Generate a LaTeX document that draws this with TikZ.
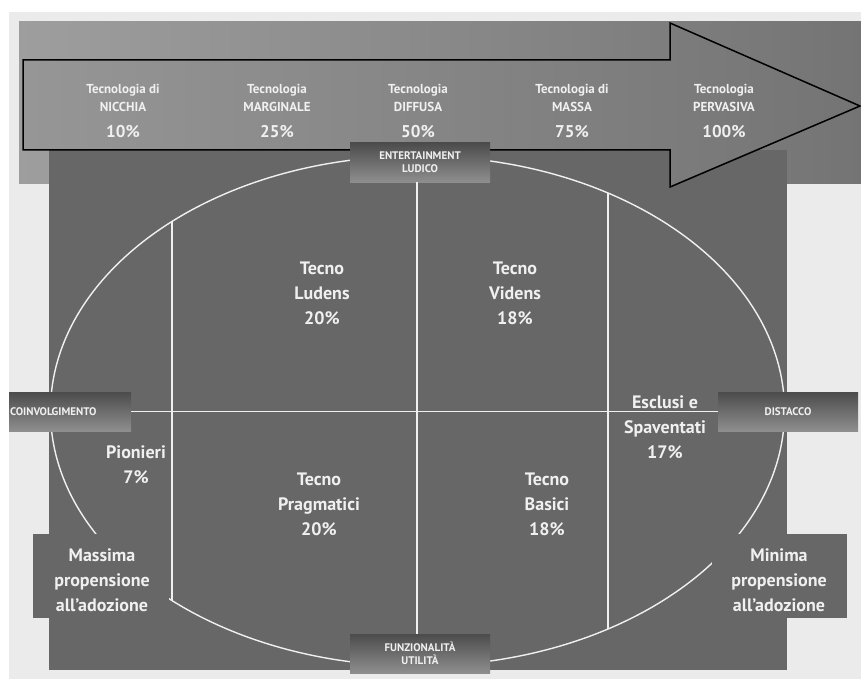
\documentclass[tikz,border=0pt]{standalone}
\usepackage{fontspec}
\setmainfont{PT Sans}
\definecolor{bgclr}{HTML}{EBEBEB}
\definecolor{bandleft}{HTML}{9E9E9E}
\definecolor{bandright}{HTML}{747474}
\definecolor{panel}{HTML}{676767}
\definecolor{boxtop}{HTML}{4C4C4C}
\definecolor{boxbottom}{HTML}{8E8E8E}
\definecolor{lineclr}{HTML}{F0F0F0}
\begin{document}
\begin{tikzpicture}[x=1pt, y=-1pt,
    lbl/.style={text=lineclr, font=\bfseries\fontsize{18}{25}\selectfont, align=center, inner sep=0pt},
    toplbl/.style={text=lineclr, font=\bfseries\fontsize{13}{18}\selectfont, align=center, inner sep=0pt, anchor=north},
    axisbox/.style={top color=boxtop, bottom color=boxbottom, inner sep=0pt, text=lineclr,
        font=\bfseries\fontsize{11}{13}\selectfont, align=center, minimum height=39},
    sidebox/.style={fill=panel, inner sep=0pt, minimum width=136, minimum height=84},
    divider/.style={draw=lineclr, line width=1.4pt}]

    % page and backgrounds
    \useasboundingbox (0,0) rectangle (861,679);
    \fill[white] (0,0) rectangle (861,679);
    \fill[bgclr] (9,12) rectangle (861,679);
    \fill[left color=bandleft, right color=bandright] (19,22) rectangle (861,183);
    \fill[panel] (49,150) rectangle (787,670);

    % big arrow
    \draw[line width=1.5pt, line join=miter, left color=bandleft!95!black, right color=bandright]
        (23,60) -- (670,60) -- (670,23) -- (860,106) -- (670,187) -- (670,150) -- (23,150) -- cycle;

    % diffusion levels
    \def\pct#1{\\[8pt]{\fontsize{17}{17}\selectfont #1\%}}
    \node[toplbl] (nicchia) at (123,84) {Tecnologia di\\NICCHIA\pct{10}};
    \node[toplbl] (marginale) at (277,84) {Tecnologia\\MARGINALE\pct{25}};
    \node[toplbl] (diffusa) at (418,84) {Tecnologia\\DIFFUSA\pct{50}};
    \node[toplbl] (massa) at (572,84) {Tecnologia di\\MASSA\pct{75}};
    \node[toplbl] (pervasiva) at (724,84) {Tecnologia\\PERVASIVA\pct{100}};

    % ellipse and the two side limits
    \coordinate (centre) at (417.5,411);
    \coordinate (vaxis) at (417,411);
    \draw[divider] (centre) ellipse [x radius=367pt, y radius=255pt];
    \coordinate (leftA) at (172,221.5);
    \coordinate (leftB) at (172,600.5);
    \coordinate (rightA) at (608,193);
    \coordinate (rightB) at (608,629);
    \draw[divider] (leftA) -- (leftB);
    \draw[divider] (rightA) -- (rightB);

    % side boxes (they hide the ellipse)
    \node[sidebox] (massbox) at (101,576) {};
    \node[sidebox, minimum width=135] (minbox) at (779.5,576) {};
    \node[lbl] (massima) at (102,580) {Massima\\propensione\\all'adozione};
    \node[lbl] (minima) at (779,580) {Minima\\propensione\\all'adozione};

    % axis boxes
    \node[axisbox, minimum width=140] (ent) at (420,162.5) {ENTERTAINMENT\\LUDICO};
    \node[axisbox, minimum width=140] (fun) at (420,653.5) {FUNZIONALIT\`A\\UTILIT\`A};
    \node[axisbox, text width=120, inner xsep=1pt, align=left] (coin) at (70,411.5) {COINVOLGIMENTO};
    \node[axisbox, minimum width=140] (dist) at (788,411.5) {DISTACCO};

    % axes
    \draw[divider] (coin.east) -- (dist.west);
    \draw[divider] (ent.south -| vaxis) -- (fun.north -| vaxis);

    % segments
    \node[lbl] (ludens) at (322,293) {Tecno\\Ludens\\20\%};
    \node[lbl] (videns) at (515,293) {Tecno\\Videns\\18\%};
    \node[lbl] (pragmatici) at (319,504) {Tecno\\Pragmatici\\20\%};
    \node[lbl] (basici) at (547,504) {Tecno\\Basici\\18\%};
    \node[lbl] (esclusi) at (665,427) {Esclusi e\\Spaventati\\17\%};
    \node[lbl] (pionieri) at (136,465) {Pionieri\\7\%};

\end{tikzpicture}
\end{document}
